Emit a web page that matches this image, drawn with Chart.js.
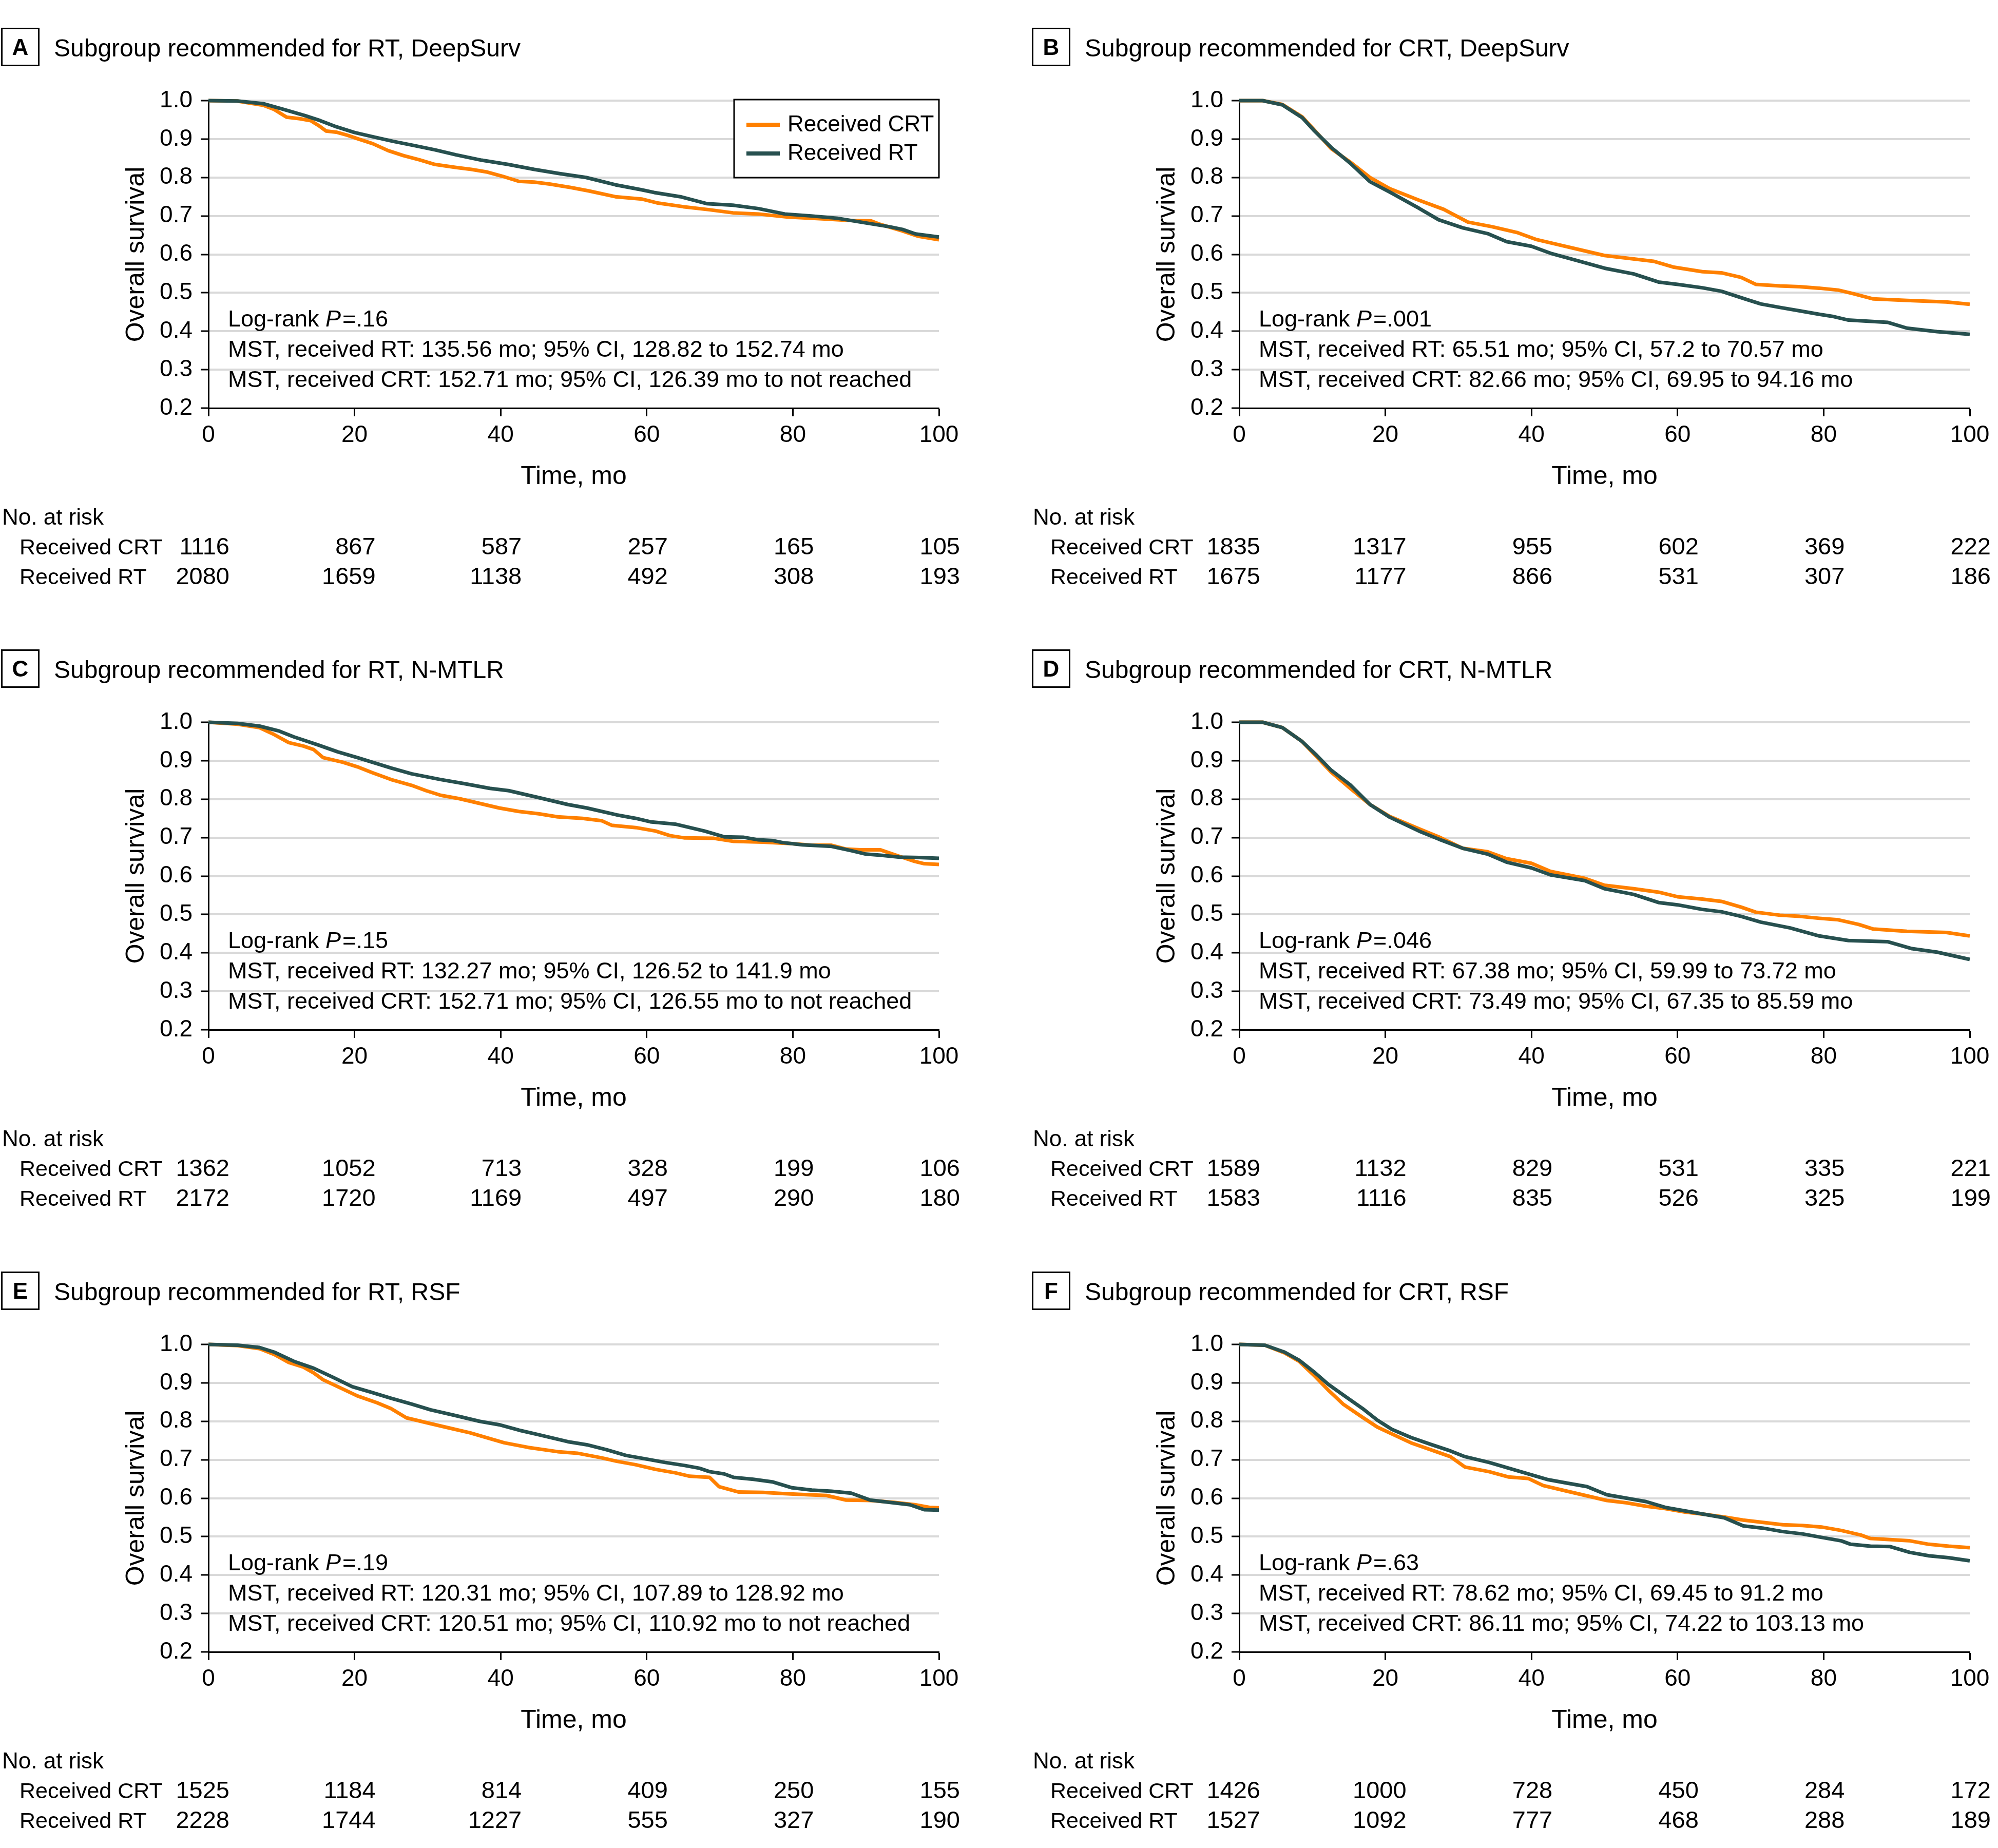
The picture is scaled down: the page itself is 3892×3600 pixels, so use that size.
<!DOCTYPE html>
<html><head><meta charset="utf-8">
<script src="https://cdn.jsdelivr.net/npm/chart.js@4.4.1/dist/chart.umd.min.js"></script>
<style>
html,body{margin:0;padding:0;background:#fff;}
#wrap{position:relative;width:3892px;height:3600px;background:#fff;overflow:hidden;}
canvas{position:absolute;}
</style></head><body><div id="wrap"></div>
<script>
// ---------------- DATA ----------------
const seriesLabels = ['Received CRT', 'Received RT'];
const panelLetters = ['A', 'B', 'C', 'D', 'E', 'F'];
const panelTitles = [
  'Subgroup recommended for RT, DeepSurv',
  'Subgroup recommended for CRT, DeepSurv',
  'Subgroup recommended for RT, N-MTLR',
  'Subgroup recommended for CRT, N-MTLR',
  'Subgroup recommended for RT, RSF',
  'Subgroup recommended for CRT, RSF'
];
const logRankP = ['.16', '.001', '.15', '.046', '.19', '.63'];
const mstRT = [
  'MST, received RT: 135.56 mo; 95% CI, 128.82 to 152.74 mo',
  'MST, received RT: 65.51 mo; 95% CI, 57.2 to 70.57 mo',
  'MST, received RT: 132.27 mo; 95% CI, 126.52 to 141.9 mo',
  'MST, received RT: 67.38 mo; 95% CI, 59.99 to 73.72 mo',
  'MST, received RT: 120.31 mo; 95% CI, 107.89 to 128.92 mo',
  'MST, received RT: 78.62 mo; 95% CI, 69.45 to 91.2 mo'
];
const mstCRT = [
  'MST, received CRT: 152.71 mo; 95% CI, 126.39 mo to not reached',
  'MST, received CRT: 82.66 mo; 95% CI, 69.95 to 94.16 mo',
  'MST, received CRT: 152.71 mo; 95% CI, 126.55 mo to not reached',
  'MST, received CRT: 73.49 mo; 95% CI, 67.35 to 85.59 mo',
  'MST, received CRT: 120.51 mo; 95% CI, 110.92 mo to not reached',
  'MST, received CRT: 86.11 mo; 95% CI, 74.22 to 103.13 mo'
];
const xTickValues = [0, 20, 40, 60, 80, 100];
const yTickValues = [0.2, 0.3, 0.4, 0.5, 0.6, 0.7, 0.8, 0.9, 1.0];

// Panel A
const timeA_CRT = [0, 3.9, 7.5, 9, 10.7, 12.5, 14, 15.1, 16.1, 17.5, 19, 20.4, 22.5, 24.6, 26.7, 28.9, 31, 33.9, 36, 38.2, 40.3, 42.5, 44.6, 46.7, 49.6, 52.1, 55.7, 59.3, 61.4, 65, 68.6, 71.8, 75.3, 79.3, 84.3, 87.8, 90.7, 91.8, 95, 97.2, 100];
const survA_CRT = [1.0, 0.999, 0.988, 0.977, 0.957, 0.953, 0.948, 0.935, 0.921, 0.918, 0.91, 0.901, 0.888, 0.87, 0.857, 0.846, 0.834, 0.826, 0.821, 0.814, 0.803, 0.79, 0.788, 0.783, 0.774, 0.765, 0.75, 0.744, 0.734, 0.724, 0.716, 0.708, 0.705, 0.697, 0.692, 0.688, 0.687, 0.679, 0.661, 0.647, 0.638];
const timeA_RT = [0, 4, 7.5, 10.3, 13.2, 15.3, 17.5, 20, 22.5, 25.3, 28.2, 31, 33.9, 37.4, 41, 44.6, 48.1, 51.7, 55.7, 59.3, 61, 64.6, 68.2, 71.8, 75.3, 78.9, 82.5, 86.1, 89.6, 93.2, 95, 96.8, 100];
const survA_RT = [1.0, 0.999, 0.992, 0.977, 0.961, 0.948, 0.932, 0.917, 0.906, 0.894, 0.883, 0.872, 0.859, 0.845, 0.834, 0.821, 0.81, 0.80, 0.781, 0.768, 0.761, 0.75, 0.732, 0.728, 0.719, 0.705, 0.70, 0.694, 0.683, 0.672, 0.665, 0.653, 0.645];
const riskA_CRT = [1116, 867, 587, 257, 165, 105];
const riskA_RT = [2080, 1659, 1138, 492, 308, 193];

// Panel B
const timeB_CRT = [0, 3.2, 5.9, 8.6, 10.2, 12.6, 15.2, 17.9, 20.6, 24.6, 28, 31.3, 34.6, 38, 40.6, 43.3, 47.3, 50, 52.7, 56.7, 59.4, 63.4, 66, 68.7, 70.7, 74, 76.7, 79.4, 82, 84, 86.8, 91.4, 96.8, 100];
const survB_CRT = [1.0, 1.0, 0.99, 0.958, 0.925, 0.875, 0.84, 0.80, 0.771, 0.741, 0.717, 0.684, 0.672, 0.657, 0.639, 0.627, 0.609, 0.597, 0.591, 0.582, 0.567, 0.555, 0.552, 0.54, 0.522, 0.518, 0.516, 0.512, 0.507, 0.498, 0.484, 0.48, 0.476, 0.47];
const timeB_RT = [0, 3.2, 5.9, 8.6, 10.2, 12.6, 15.2, 17.9, 20.6, 24.6, 27.3, 30.6, 34, 36.6, 40, 42.6, 46, 50, 54, 57.4, 60, 63.4, 66, 69.4, 71.4, 74, 76.7, 79.4, 81.4, 83.4, 88.8, 91.4, 95.5, 100];
const survB_RT = [1.0, 1.0, 0.989, 0.956, 0.923, 0.878, 0.837, 0.789, 0.762, 0.72, 0.69, 0.669, 0.654, 0.633, 0.621, 0.603, 0.585, 0.564, 0.549, 0.528, 0.522, 0.513, 0.504, 0.483, 0.471, 0.462, 0.453, 0.444, 0.438, 0.429, 0.423, 0.408, 0.399, 0.392];
const riskB_CRT = [1835, 1317, 955, 602, 369, 222];
const riskB_RT = [1675, 1177, 866, 531, 307, 186];

// Panel C
const timeC_CRT = [0, 4, 7, 9, 11, 13, 14.4, 15.7, 18.4, 20.4, 22.4, 25, 27.8, 29.8, 31.8, 34.4, 37.1, 39.8, 42.5, 45.2, 47.8, 51.2, 53.8, 55.2, 58.5, 61.2, 63.2, 65.2, 69.2, 71.9, 75.9, 79.9, 82.6, 85.3, 87.3, 89.3, 92, 94.6, 96.7, 98, 100];
const survC_CRT = [1.0, 0.995, 0.986, 0.968, 0.947, 0.938, 0.929, 0.908, 0.896, 0.884, 0.869, 0.851, 0.836, 0.822, 0.81, 0.801, 0.789, 0.777, 0.768, 0.762, 0.754, 0.75, 0.744, 0.732, 0.726, 0.717, 0.705, 0.699, 0.698, 0.69, 0.688, 0.684, 0.68, 0.68, 0.67, 0.668, 0.668, 0.651, 0.638, 0.632, 0.63];
const timeC_RT = [0, 4, 7, 9.7, 11.7, 15, 17.7, 20.4, 25, 27.8, 31.8, 35.1, 38.5, 41.1, 45.2, 49.2, 51.8, 55.9, 58.5, 60.5, 63.9, 67.9, 70.6, 73.2, 75.3, 77.3, 78.6, 81.3, 85.3, 88, 90, 92, 94.6, 97.3, 100];
const survC_RT = [1.0, 0.997, 0.99, 0.977, 0.962, 0.941, 0.923, 0.908, 0.881, 0.866, 0.851, 0.84, 0.828, 0.822, 0.804, 0.786, 0.777, 0.759, 0.75, 0.741, 0.735, 0.717, 0.702, 0.701, 0.694, 0.692, 0.687, 0.681, 0.677, 0.666, 0.657, 0.654, 0.649, 0.648, 0.646];
const riskC_CRT = [1362, 1052, 713, 328, 199, 106];
const riskC_RT = [2172, 1720, 1169, 497, 290, 180];

// Panel D
const timeD_CRT = [0, 3.2, 5.9, 8.6, 10.6, 12.6, 15.2, 17.9, 20.6, 24.6, 27.3, 30.6, 34, 36.6, 40, 42.6, 47.3, 50, 54, 57.4, 60, 63.4, 66, 68.7, 70.7, 74, 76.7, 79.4, 82, 84.8, 86.8, 91.4, 96.8, 100];
const survD_CRT = [1.0, 1.0, 0.986, 0.95, 0.91, 0.87, 0.828, 0.786, 0.755, 0.723, 0.702, 0.672, 0.663, 0.645, 0.633, 0.612, 0.594, 0.576, 0.567, 0.558, 0.546, 0.54, 0.534, 0.519, 0.506, 0.498, 0.495, 0.49, 0.486, 0.474, 0.462, 0.456, 0.453, 0.444];
const timeD_RT = [0, 3.2, 5.9, 8.6, 10.6, 12.6, 15.2, 17.9, 20.6, 24.6, 27.3, 30.6, 34, 36.6, 40, 42.6, 47.3, 50, 54, 57.4, 60, 63.4, 66, 68.7, 71.4, 75.4, 79.4, 83.4, 88.8, 92.1, 95.5, 100];
const survD_RT = [1.0, 1.0, 0.986, 0.95, 0.914, 0.875, 0.837, 0.786, 0.753, 0.717, 0.696, 0.672, 0.657, 0.636, 0.621, 0.603, 0.588, 0.567, 0.552, 0.531, 0.525, 0.513, 0.507, 0.495, 0.48, 0.465, 0.444, 0.432, 0.429, 0.411, 0.402, 0.383];
const riskD_CRT = [1589, 1132, 829, 531, 335, 221];
const riskD_RT = [1583, 1116, 835, 526, 325, 199];

// Panel E
const timeE_CRT = [0, 4, 7, 9, 11, 13, 14.4, 15.7, 18.4, 20.4, 23.1, 25, 27.1, 30.4, 33.1, 35.8, 38.5, 40.5, 43.8, 47.8, 50.5, 53.8, 55.9, 58.5, 61.2, 63.9, 65.9, 68.6, 69.9, 72.6, 75.9, 78.6, 81.9, 84.6, 87.3, 90.6, 93.9, 96.7, 98.7, 100];
const survE_CRT = [1.0, 0.997, 0.989, 0.974, 0.953, 0.941, 0.926, 0.908, 0.884, 0.866, 0.848, 0.833, 0.809, 0.794, 0.782, 0.77, 0.755, 0.744, 0.732, 0.721, 0.717, 0.705, 0.696, 0.687, 0.675, 0.666, 0.657, 0.654, 0.63, 0.616, 0.615, 0.612, 0.609, 0.607, 0.595, 0.594, 0.589, 0.583, 0.576, 0.575];
const timeE_RT = [0, 4, 7, 9, 11.7, 14.4, 17.1, 19.7, 22.4, 25, 27.8, 30.4, 33.8, 37.1, 39.8, 42.5, 45.2, 49.2, 51.8, 54.5, 57.2, 59.9, 62.5, 65.2, 67.2, 68.6, 70.6, 71.9, 74.6, 77.3, 79.9, 82.6, 85.3, 88, 90.6, 93.3, 96, 98, 100];
const survE_RT = [1.0, 0.998, 0.992, 0.98, 0.956, 0.938, 0.914, 0.89, 0.875, 0.86, 0.845, 0.83, 0.815, 0.80, 0.791, 0.777, 0.765, 0.747, 0.739, 0.726, 0.711, 0.702, 0.693, 0.685, 0.678, 0.669, 0.663, 0.654, 0.649, 0.642, 0.627, 0.621, 0.618, 0.613, 0.595, 0.589, 0.583, 0.57, 0.569];
const riskE_CRT = [1525, 1184, 814, 409, 250, 155];
const riskE_RT = [2228, 1744, 1227, 555, 327, 190];

// Panel F
const timeF_CRT = [0, 3.5, 6.2, 8.2, 10.2, 12.2, 14.2, 16.9, 18.9, 20.9, 23.5, 26.2, 28.9, 30.9, 34.2, 36.9, 39.6, 41.6, 44.9, 47.6, 50.3, 53, 55.7, 58.3, 61, 63.7, 66.4, 69, 71.7, 74.4, 77.1, 79.7, 82.4, 85.1, 86.4, 89.1, 91.8, 94.4, 97.1, 100];
const survF_CRT = [1.0, 0.998, 0.978, 0.956, 0.92, 0.881, 0.845, 0.81, 0.785, 0.767, 0.744, 0.726, 0.708, 0.681, 0.669, 0.655, 0.651, 0.633, 0.618, 0.606, 0.594, 0.588, 0.579, 0.573, 0.564, 0.558, 0.551, 0.543, 0.537, 0.531, 0.529, 0.525, 0.516, 0.504, 0.495, 0.492, 0.489, 0.48, 0.475, 0.471];
const timeF_RT = [0, 3.5, 6.2, 8.2, 10.2, 12.2, 14.2, 16.9, 18.9, 20.9, 23.5, 26.2, 28.9, 30.9, 34.2, 36.9, 39.6, 42.3, 44.9, 47.6, 50.3, 53, 55.7, 58.3, 61, 63.7, 66.4, 69, 71.7, 74.4, 77.1, 79.7, 82.4, 83.7, 86.4, 89.1, 91.8, 94.4, 97.1, 100];
const survF_RT = [1.0, 0.998, 0.98, 0.959, 0.929, 0.896, 0.869, 0.833, 0.803, 0.779, 0.758, 0.74, 0.723, 0.708, 0.693, 0.678, 0.663, 0.648, 0.639, 0.63, 0.609, 0.60, 0.591, 0.576, 0.567, 0.558, 0.549, 0.528, 0.522, 0.513, 0.507, 0.498, 0.489, 0.48, 0.475, 0.474, 0.459, 0.45, 0.445, 0.437];
const riskF_CRT = [1426, 1000, 728, 450, 284, 172];
const riskF_RT = [1527, 1092, 777, 468, 288, 189];

// ---------------- STYLE / LAYOUT ----------------
const FONT = "'Liberation Sans', Arial, sans-serif";
const COLOR_CRT = '#FF8000';
const COLOR_RT = '#27504F';
const PW = 1886, PH = 1165;
const origins = [[0, 0], [2008, 0], [0, 1211], [2008, 1211], [0, 2423], [2008, 2423]];
const PLOT_L = 406, PLOT_R = 1829, PLOT_T = 196, PLOT_B = 795;
const YAXIS_W = 130, XAXIS_H = 100;

const panelData = [
  { crt: [timeA_CRT, survA_CRT], rt: [timeA_RT, survA_RT], risk: [riskA_CRT, riskA_RT], legend: true },
  { crt: [timeB_CRT, survB_CRT], rt: [timeB_RT, survB_RT], risk: [riskB_CRT, riskB_RT] },
  { crt: [timeC_CRT, survC_CRT], rt: [timeC_RT, survC_RT], risk: [riskC_CRT, riskC_RT] },
  { crt: [timeD_CRT, survD_CRT], rt: [timeD_RT, survD_RT], risk: [riskD_CRT, riskD_RT] },
  { crt: [timeE_CRT, survE_CRT], rt: [timeE_RT, survE_RT], risk: [riskE_CRT, riskE_RT] },
  { crt: [timeF_CRT, survF_CRT], rt: [timeF_RT, survF_RT], risk: [riskF_CRT, riskF_RT] }
];

function pts(t, s) { return t.map((v, i) => ({ x: v, y: s[i] })); }

const decor = {
  id: 'decor',
  afterDraw(chart, args, o) {
    const ctx = chart.ctx, ca = chart.chartArea, xs = chart.scales.x;
    ctx.save();
    ctx.fillStyle = '#000'; ctx.strokeStyle = '#000';
    // panel letter box
    ctx.lineWidth = 3;
    ctx.strokeRect(3.5, 55.5, 72, 72);
    ctx.font = 'bold 44px ' + FONT;
    ctx.textAlign = 'center'; ctx.textBaseline = 'alphabetic';
    ctx.fillText(o.letter, 39.5, 107);
    // title
    ctx.textAlign = 'left';
    ctx.font = '48px ' + FONT;
    ctx.fillText(o.title, 105, 110);
    // y title
    ctx.save();
    ctx.translate(ca.left - 140, (ca.top + ca.bottom) / 2);
    ctx.rotate(-Math.PI / 2);
    ctx.textAlign = 'center'; ctx.textBaseline = 'middle';
    ctx.font = '50px ' + FONT;
    ctx.fillText('Overall survival', 0, 0);
    ctx.restore();
    // x title
    ctx.textAlign = 'center'; ctx.textBaseline = 'alphabetic';
    ctx.font = '50px ' + FONT;
    ctx.fillText('Time, mo', (ca.left + ca.right) / 2, ca.bottom + 148);
    // annotations
    ctx.textAlign = 'left';
    const ax = ca.left + 38;
    ctx.font = '45px ' + FONT;
    let w = 0;
    ctx.fillText('Log-rank ', ax, ca.top + 440);
    w = ctx.measureText('Log-rank ').width;
    ctx.font = 'italic 45px ' + FONT;
    ctx.fillText('P', ax + w, ca.top + 440);
    w += ctx.measureText('P').width + 3;
    ctx.font = '45px ' + FONT;
    ctx.fillText('=' + o.p, ax + w, ca.top + 440);
    ctx.fillText(o.mstRT, ax, ca.top + 499);
    ctx.fillText(o.mstCRT, ax, ca.top + 558);
    // legend
    if (o.legend) {
      const bw = 399, bh = 152, bx = ca.right - bw, by = ca.top - 2;
      ctx.fillStyle = '#fff';
      ctx.fillRect(bx, by, bw, bh);
      ctx.strokeStyle = '#000'; ctx.lineWidth = 3;
      ctx.strokeRect(bx, by, bw, bh);
      const ds = chart.data.datasets;
      const rowsY = [by + 49, by + 105];
      ds.forEach((d, i) => {
        ctx.strokeStyle = d.borderColor; ctx.lineWidth = 8; ctx.lineCap = 'butt';
        ctx.beginPath(); ctx.moveTo(bx + 24, rowsY[i]); ctx.lineTo(bx + 89, rowsY[i]); ctx.stroke();
        ctx.fillStyle = '#000';
        ctx.font = '44px ' + FONT;
        ctx.textBaseline = 'middle';
        ctx.fillText(d.label, bx + 104, rowsY[i] + 1);
      });
      ctx.textBaseline = 'alphabetic';
    }
    // number at risk table
    ctx.fillStyle = '#000';
    ctx.font = '44px ' + FONT;
    ctx.textAlign = 'left';
    ctx.fillText('No. at risk', 4, ca.bottom + 227);
    const rowY = [ca.bottom + 285, ca.bottom + 343];
    o.risk.forEach((row, r) => {
      ctx.textAlign = 'left';
      ctx.font = '43px ' + FONT;
      ctx.fillText(seriesLabels[r], 38, rowY[r]);
      ctx.textAlign = 'right';
      ctx.font = '47px ' + FONT;
      row.forEach((n, i) => {
        ctx.fillText(String(n), xs.getPixelForValue(xTickValues[i]) + 41, rowY[r]);
      });
    });
    ctx.restore();
  }
};

const wrap = document.getElementById('wrap');
panelData.forEach((pd, k) => {
  const cv = document.createElement('canvas');
  cv.width = PW; cv.height = PH;
  cv.style.left = origins[k][0] + 'px';
  cv.style.top = origins[k][1] + 'px';
  cv.style.width = PW + 'px'; cv.style.height = PH + 'px';
  wrap.appendChild(cv);
  new Chart(cv, {
    type: 'line',
    data: {
      datasets: [
        { label: seriesLabels[0], data: pts(pd.crt[0], pd.crt[1]), borderColor: COLOR_CRT, borderWidth: 7, pointRadius: 0, tension: 0, fill: false, order: 1, clip: false, borderJoinStyle: 'round' },
        { label: seriesLabels[1], data: pts(pd.rt[0], pd.rt[1]), borderColor: COLOR_RT, borderWidth: 7, pointRadius: 0, tension: 0, fill: false, order: 0, clip: false, borderJoinStyle: 'round' }
      ]
    },
    options: {
      responsive: false, animation: false, devicePixelRatio: 1, events: [],
      layout: { padding: { left: PLOT_L - YAXIS_W, right: PW - PLOT_R, top: PLOT_T, bottom: PH - PLOT_B - XAXIS_H } },
      plugins: {
        legend: { display: false }, tooltip: { enabled: false }, title: { display: false },
        decor: { letter: panelLetters[k], title: panelTitles[k], p: logRankP[k], mstRT: mstRT[k], mstCRT: mstCRT[k], risk: pd.risk, legend: !!pd.legend }
      },
      scales: {
        x: {
          type: 'linear', min: 0, max: 100,
          afterBuildTicks: (s) => { s.ticks = xTickValues.map(v => ({ value: v })); },
          afterFit: (s) => { s.height = XAXIS_H; },
          ticks: { autoSkip: false, maxRotation: 0, padding: 10, color: '#000', font: { family: FONT, size: 46 }, callback: (v) => String(v) },
          grid: { drawOnChartArea: false, drawTicks: true, tickLength: 16, tickColor: '#000', tickWidth: 3 },
          border: { display: true, color: '#000', width: 3 }
        },
        y: {
          type: 'linear', min: 0.2, max: 1.0,
          afterBuildTicks: (s) => { s.ticks = yTickValues.map(v => ({ value: v })); },
          afterFit: (s) => { s.width = YAXIS_W; },
          ticks: { autoSkip: false, padding: 16, color: '#000', font: { family: FONT, size: 46 }, callback: (v) => Number(v).toFixed(1) },
          grid: { color: '#d9d9d9', lineWidth: 4, drawTicks: true, tickLength: 15, tickColor: '#000', tickWidth: 3 },
          border: { display: true, color: '#000', width: 3 }
        }
      }
    },
    plugins: [decor]
  });
});
</script>
</body></html>
